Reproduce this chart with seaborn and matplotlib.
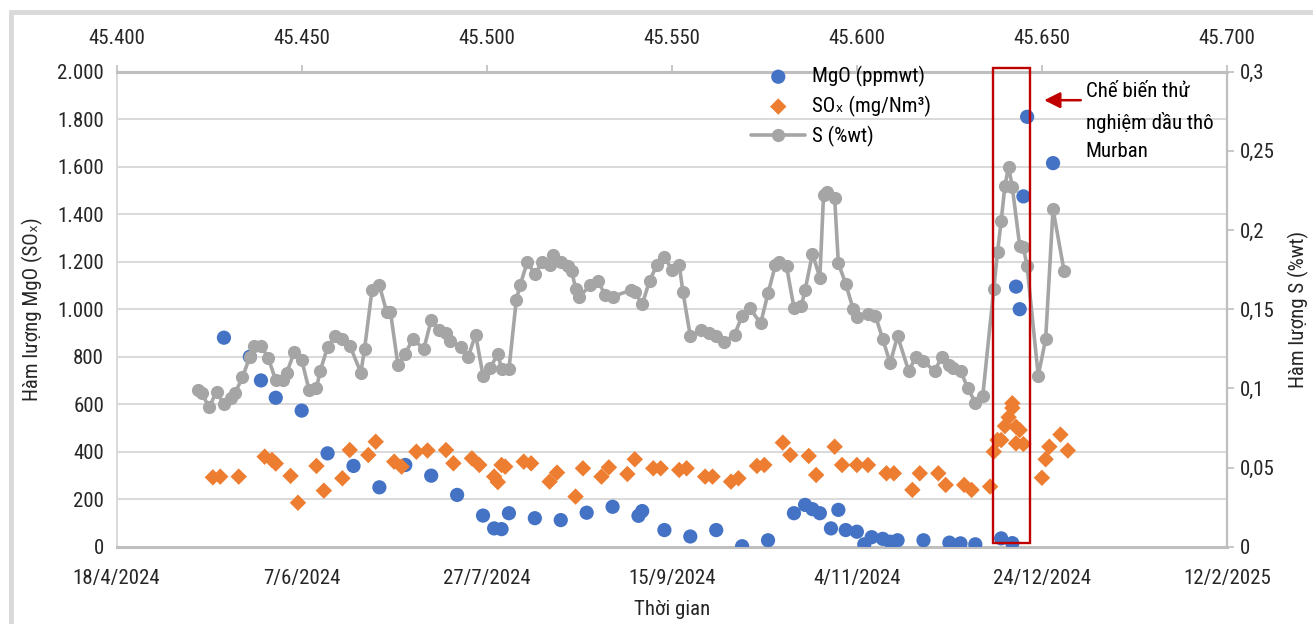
import matplotlib
matplotlib.use("Agg")
import matplotlib.pyplot as plt
from matplotlib import font_manager
from matplotlib.patches import Rectangle
import seaborn as sns

# ---- data (x values are spreadsheet serial day numbers) ----
s_day = [45422, 45423, 45425, 45427, 45429, 45431, 45432, 45434, 45436, 45437,
         45439, 45441, 45443, 45445, 45446, 45448, 45450, 45452, 45454, 45455,
         45457, 45459, 45461, 45463, 45466, 45467, 45469, 45471, 45473, 45474,
         45476, 45478, 45480, 45483, 45485, 45487, 45489, 45490, 45493, 45495,
         45497, 45499, 45501, 45503, 45504, 45506, 45508, 45509, 45511, 45513,
         45515, 45517, 45518, 45520, 45522, 45523, 45524, 45525, 45528, 45530,
         45532, 45534, 45539, 45540, 45542, 45544, 45546, 45548, 45550, 45552,
         45553, 45555, 45558, 45560, 45562, 45564, 45567, 45569, 45571, 45574,
         45576, 45578, 45579, 45581, 45583, 45585, 45586, 45588, 45590, 45591,
         45592, 45594, 45595, 45597, 45599, 45600, 45603, 45605, 45607, 45609,
         45611, 45614, 45616, 45618, 45621, 45623, 45625, 45626, 45628, 45630,
         45632, 45634, 45637, 45638, 45639, 45640, 45641, 45642, 45644, 45645,
         45646, 45649, 45651, 45653, 45656]
s_val = [0.099, 0.097, 0.088, 0.098, 0.090, 0.094, 0.097, 0.107, 0.120, 0.127,
         0.127, 0.119, 0.105, 0.105, 0.110, 0.123, 0.118, 0.099, 0.100, 0.111,
         0.126, 0.133, 0.131, 0.127, 0.110, 0.125, 0.162, 0.165, 0.148, 0.148,
         0.115, 0.122, 0.131, 0.125, 0.143, 0.137, 0.135, 0.130, 0.126, 0.120,
         0.134, 0.108, 0.113, 0.122, 0.112, 0.112, 0.156, 0.165, 0.180, 0.172,
         0.180, 0.178, 0.184, 0.180, 0.177, 0.174, 0.163, 0.158, 0.165, 0.168,
         0.159, 0.158, 0.162, 0.161, 0.153, 0.168, 0.178, 0.183, 0.175, 0.178,
         0.161, 0.133, 0.137, 0.135, 0.133, 0.129, 0.134, 0.146, 0.151, 0.141,
         0.160, 0.178, 0.180, 0.177, 0.151, 0.152, 0.162, 0.185, 0.170, 0.222,
         0.224, 0.220, 0.179, 0.166, 0.150, 0.145, 0.147, 0.146, 0.131, 0.116,
         0.133, 0.111, 0.120, 0.117, 0.111, 0.120, 0.115, 0.113, 0.111, 0.100,
         0.091, 0.095, 0.163, 0.186, 0.206, 0.228, 0.240, 0.227, 0.190, 0.189,
         0.177, 0.108, 0.131, 0.213, 0.174]

mgo_day = [45429, 45436, 45439, 45443, 45450, 45457, 45464, 45471, 45478, 45485,
           45492, 45499, 45502, 45504, 45506, 45513, 45520, 45527, 45534, 45541,
           45542, 45548, 45555, 45562, 45569, 45576, 45583, 45586, 45588, 45590,
           45593, 45595, 45597, 45600, 45602, 45604, 45607, 45609, 45611, 45618,
           45625, 45628, 45632, 45639, 45642, 45643, 45644, 45645, 45646, 45653]
mgo_val = [880, 800, 700, 627, 573, 393, 340, 250, 344, 299,
           218, 131, 77, 74, 141, 120, 112, 143, 168, 130,
           150, 70, 43, 70, 2, 27, 141, 176, 158, 141,
           77, 155, 70, 63, 10, 40, 33, 21, 27, 27,
           17, 14, 10, 35, 15, 1095, 1000, 1475, 1810, 1615]

sox_day = [45426, 45428, 45433, 45440, 45442, 45443, 45447, 45449, 45454, 45456,
           45461, 45463, 45468, 45470, 45475, 45477, 45481, 45484, 45489, 45491,
           45496, 45498, 45502, 45503, 45504, 45505, 45510, 45512, 45517, 45519,
           45524, 45526, 45531, 45533, 45538, 45540, 45545, 45547, 45552, 45554,
           45559, 45561, 45566, 45568, 45573, 45575, 45580, 45582, 45587, 45589,
           45594, 45596, 45600, 45603, 45608, 45610, 45615, 45617, 45622, 45624,
           45629, 45631, 45636, 45637, 45638, 45639, 45640, 45641, 45642, 45642,
           45643, 45643, 45644, 45645, 45650, 45651, 45652, 45655, 45657]
sox_val = [292, 295, 295, 379, 365, 350, 298, 185, 340, 236,
           288, 407, 386, 442, 358, 337, 400, 405, 407, 351,
           372, 344, 295, 272, 344, 337, 358, 351, 274, 312,
           211, 330, 295, 334, 306, 368, 330, 330, 323, 330,
           295, 295, 274, 288, 340, 344, 438, 386, 382, 302,
           421, 344, 344, 344, 309, 309, 239, 309, 309, 260,
           260, 239, 253, 400, 449, 449, 508, 545, 604, 584,
           505, 435, 491, 432, 290, 368, 421, 472, 405]

x_ticks = [45400, 45450, 45500, 45550, 45600, 45650, 45700]
date_labels = ["18/4/2024", "7/6/2024", "27/7/2024", "15/9/2024",
               "4/11/2024", "24/12/2024", "12/2/2025"]
serial_labels = ["45.400", "45.450", "45.500", "45.550", "45.600", "45.650", "45.700"]
left_ticks = [0, 200, 400, 600, 800, 1000, 1200, 1400, 1600, 1800, 2000]
left_labels = ["0", "200", "400", "600", "800", "1.000", "1.200", "1.400",
               "1.600", "1.800", "2.000"]
right_ticks = [0, 0.05, 0.1, 0.15, 0.2, 0.25, 0.3]
right_labels = ["0", "0,05", "0,1", "0,15", "0,2", "0,25", "0,3"]

# trial-run window and annotation
trial_start, trial_end = 45636.7, 45646.9
note_text = "Chế biến thử\nnghiệm dầu thô\nMurban"

BLUE = "#4472C4"
ORANGE = "#ED7D31"
GRAY = "#A5A5A5"
RED = "#C00000"


def pick_narrow_font():
    """Return (family, stretch) of an installed narrow sans face, if any."""
    entries = font_manager.fontManager.ttflist
    wanted = ["liberation sans narrow", "arial narrow", "roboto condensed",
              "open sans condensed", "noto sans condensed", "dejavu sans condensed"]
    for w in wanted:
        for f in entries:
            if f.name.lower() == w and f.style == "normal":
                return f.name, f.stretch
    for fam in ["Noto Sans", "Open Sans", "DejaVu Sans", "Roboto"]:
        for f in entries:
            if (f.name == fam and f.style == "normal" and f.weight in (400, "normal")
                    and str(f.stretch) in ("condensed", "semi-condensed",
                                           "extra-condensed")):
                return f.name, f.stretch
    return None, None


narrow_family, narrow_stretch = pick_narrow_font()

sns.set_style("white")
if narrow_family is not None:
    plt.rcParams["font.family"] = [narrow_family, "DejaVu Sans"]
    plt.rcParams["font.stretch"] = narrow_stretch
    FS = 15
else:
    plt.rcParams["font.family"] = ["Liberation Sans", "DejaVu Sans"]
    FS = 13.5
plt.rcParams["text.color"] = "#000000"

fig = plt.figure(figsize=(13.13, 6.24), dpi=100)
ax = fig.add_axes([0.0888, 0.1239, 0.8457, 0.7612])
ax2 = ax.twinx()

sns.scatterplot(x=mgo_day, y=mgo_val, ax=ax, color=BLUE, marker="o", s=105,
                edgecolor="none", label="MgO (ppmwt)", zorder=3)
sns.scatterplot(x=sox_day, y=sox_val, ax=ax, color=ORANGE, marker="D", s=70,
                edgecolor="none", label="SOₓ (mg/Nm³)", zorder=3)
sns.lineplot(x=s_day, y=s_val, ax=ax2, color=GRAY, marker="o", markersize=9.5,
             markeredgewidth=0, linewidth=2.6, label="S (%wt)")

ax.set_xlim(45400, 45700)
ax.set_ylim(0, 2000)
ax2.set_ylim(0, 0.3)

ax.set_xticks(x_ticks, labels=date_labels)
ax.set_yticks(left_ticks, labels=left_labels)
ax2.set_yticks(right_ticks, labels=right_labels)

ax.yaxis.grid(True, color="#D9D9D9", lw=1.4)
ax.xaxis.grid(False)
ax.set_axisbelow(True)

ax.tick_params(axis="x", length=0, pad=16, labelsize=FS)
ax.tick_params(axis="y", length=0, pad=9, labelsize=FS)
ax2.tick_params(axis="y", length=5, width=1.2, color="#BFBFBF", pad=4, labelsize=FS)

top = ax.secondary_xaxis("top")
top.set_xticks(x_ticks, labels=serial_labels)
top.tick_params(axis="x", length=5, width=1.2, color="#BFBFBF", pad=12, labelsize=FS)
top.spines["top"].set_color("#BFBFBF")
top.spines["top"].set_linewidth(2.2)

for side in ["left", "top", "bottom"]:
    ax2.spines[side].set_visible(False)
ax.spines["right"].set_visible(False)
ax.spines["top"].set_color("#BFBFBF")
ax.spines["top"].set_linewidth(2.2)
ax.spines["bottom"].set_color("#BFBFBF")
ax.spines["bottom"].set_linewidth(2.2)
ax.spines["left"].set_color("#D9D9D9")
ax.spines["left"].set_linewidth(1.4)
ax2.spines["right"].set_color("#BFBFBF")
ax2.spines["right"].set_linewidth(1.6)

ax.set_xlabel("Thời gian", fontsize=FS, labelpad=9)
ax.set_ylabel("Hàm lượng MgO (SOₓ)", fontsize=FS, labelpad=10)
ax2.set_ylabel("Hàm lượng S (%wt)", fontsize=FS, rotation=90, labelpad=10)

# combined legend
h1, l1 = ax.get_legend_handles_labels()
h2, l2 = ax2.get_legend_handles_labels()
if ax.get_legend() is not None:
    ax.get_legend().remove()
ax2.legend(h1 + h2, l1 + l2, loc="upper left", bbox_to_anchor=(0.564, 1.03),
           frameon=False, fontsize=FS, handlelength=2.6, handletextpad=0.3,
           labelspacing=0.42, borderaxespad=0)

# highlighted trial window with note
ax2.add_patch(Rectangle((trial_start, 15), trial_end - trial_start, 2000,
                        transform=ax.transData, fill=False, edgecolor=RED,
                        lw=1.7, clip_on=False, zorder=6))
ax2.annotate("", xy=(45650.6, 1880), xycoords=ax.transData,
             xytext=(45660.5, 1880), textcoords=ax.transData,
             arrowprops=dict(arrowstyle="-|>", color=RED, lw=1.8,
                             mutation_scale=24, shrinkA=0, shrinkB=0))
ax2.text(45661.8, 1955, note_text, transform=ax.transData, fontsize=FS,
         va="top", ha="left", linespacing=1.62)

# outer light frame
fig.patches.append(Rectangle((0.008, -0.05), 1.1, 1.03, transform=fig.transFigure,
                             fill=False, edgecolor="#D9D9D9", lw=3.5))

fig.savefig("out.png", dpi=100)
